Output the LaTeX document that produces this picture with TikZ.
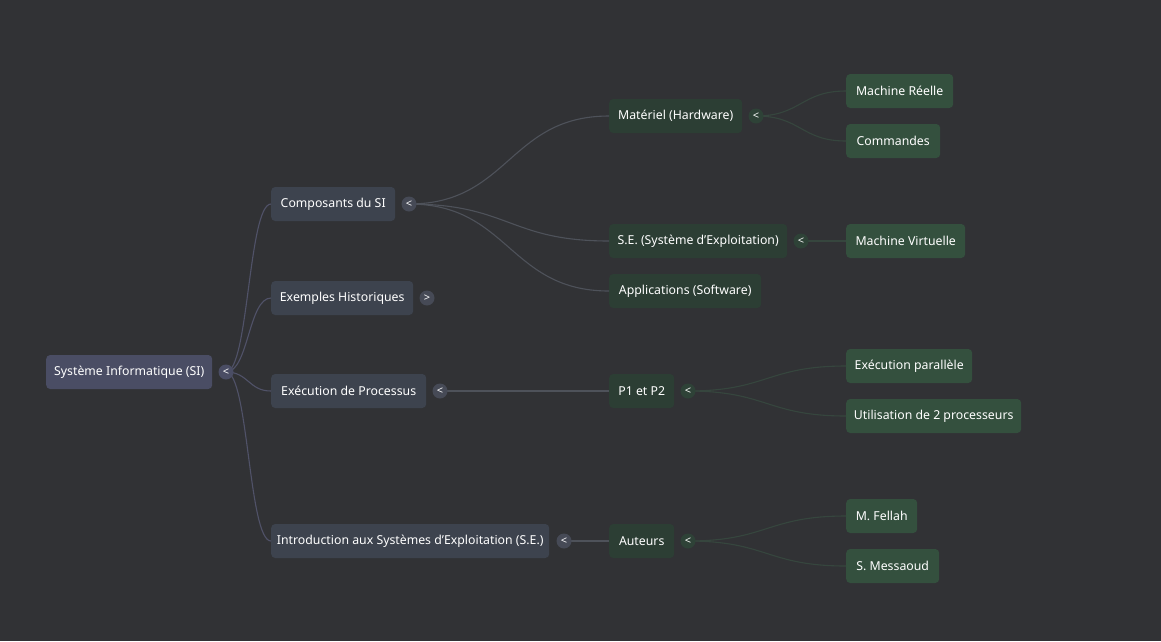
\documentclass[tikz,border=0pt]{standalone}
\usepackage{fontspec}
\setmainfont{Noto Sans}
\usetikzlibrary{calc}
\definecolor{bg}{RGB}{49,50,53}
\definecolor{rootfill}{RGB}{74,77,100}
\definecolor{topicfill}{RGB}{61,67,78}
\definecolor{subfill}{RGB}{44,62,52}
\definecolor{leaffill}{RGB}{52,80,62}
\definecolor{roottog}{RGB}{74,77,100}
\definecolor{topictog}{RGB}{70,74,86}
\definecolor{subtog}{RGB}{46,66,55}
\definecolor{rootlink}{RGB}{80,82,104}
\definecolor{topiclink}{RGB}{78,82,90}
\definecolor{sublink}{RGB}{54,70,62}
% curved connector from a toggle to a child box
\newcommand\mlink[3]{\draw[#1] let \p1=(#2.center), \p2=(#3.west), \n1={(\x2-\x1)/2} in
  (\p1) .. controls +(\n1,0) and +(-\n1,0) .. (\p2);}
\begin{document}
\begin{tikzpicture}[x=1pt,y=-1pt,
  box/.style={rounded corners=4pt, minimum height=34pt, inner sep=0pt, text=white,
    font=\fontsize{12.3}{14}\selectfont, anchor=west},
  rootbox/.style={box, fill=rootfill},
  topic/.style={box, fill=topicfill},
  subbox/.style={box, fill=subfill},
  leaf/.style={box, fill=leaffill},
  tog/.style={circle, minimum size=15pt, inner sep=0pt, text=white,
    font=\fontsize{11}{11}\selectfont\bfseries},
  rl/.style={rootlink, line width=1.1pt},
  tl/.style={topiclink, line width=1.1pt},
  sl/.style={sublink, line width=1.1pt}]
\fill[bg] (0,0) rectangle (1161,641);
\useasboundingbox (0,0) rectangle (1161,641);

% root
\node[rootbox, minimum width=166pt] (si) at (46,372) {Système Informatique (SI)};
% first level
\node[topic, minimum width=124pt] (comp) at (271,204) {Composants du SI};
\node[topic, minimum width=142pt] (hist) at (271,298) {Exemples Historiques};
\node[topic, minimum width=155pt] (exec) at (271,391) {Exécution de Processus};
\node[topic, minimum width=278pt] (intro) at (271,541) {Introduction aux Systèmes d'Exploitation (S.E.)};
% second level
\node[subbox, minimum width=133pt] (mat) at (609,116) {Matériel (Hardware)};
\node[subbox, minimum width=178pt] (se) at (609,241) {S.E. (Système d'Exploitation)};
\node[subbox, minimum width=152pt] (app) at (609,291) {Applications (Software)};
\node[subbox, minimum width=65pt] (p12) at (609,391) {P1 et P2};
\node[subbox, minimum width=65pt] (aut) at (609,541) {Auteurs};
% leaves
\node[leaf, minimum width=107pt] (mr) at (846,91) {Machine Réelle};
\node[leaf, minimum width=94pt] (cmd) at (846,141) {Commandes};
\node[leaf, minimum width=119pt] (mv) at (846,241) {Machine Virtuelle};
\node[leaf, minimum width=126pt] (par) at (846,366) {Exécution parallèle};
\node[leaf, minimum width=175pt] (proc) at (846,416) {Utilisation de 2 processeurs};
\node[leaf, minimum width=71pt] (fel) at (846,516) {M. Fellah};
\node[leaf, minimum width=93pt] (mes) at (846,566) {S. Messaoud};

% toggle positions (drawn after the connectors)
\coordinate (tsi) at (226,372);
\coordinate (tcomp) at (409,204);
\coordinate (texec) at (440,391);
\coordinate (tintro) at (564,541);
\coordinate (tmat) at (756,116);
\coordinate (tse) at (801,241);
\coordinate (tp12) at (688,391);
\coordinate (taut) at (688,541);

% connectors
\mlink{rl}{tsi}{comp}
\mlink{rl}{tsi}{hist}
\mlink{rl}{tsi}{exec}
\mlink{rl}{tsi}{intro}
\mlink{tl}{tcomp}{mat}
\mlink{tl}{tcomp}{se}
\mlink{tl}{tcomp}{app}
\draw[tl] (texec) -- (p12.west);
\draw[tl] (tintro) -- (aut.west);
\mlink{sl}{tmat}{mr}
\mlink{sl}{tmat}{cmd}
\draw[sl] (tse) -- (mv.west);
\mlink{sl}{tp12}{par}
\mlink{sl}{tp12}{proc}
\mlink{sl}{taut}{fel}
\mlink{sl}{taut}{mes}

% toggles
\node[tog, fill=roottog] at (tsi) {<};
\node[tog, fill=topictog] at (tcomp) {<};
\node[tog, fill=topictog] (thist) at (427,298) {>};
\node[tog, fill=topictog] at (texec) {<};
\node[tog, fill=topictog] at (tintro) {<};
\node[tog, fill=subtog] at (tmat) {<};
\node[tog, fill=subtog] at (tse) {<};
\node[tog, fill=subtog] at (tp12) {<};
\node[tog, fill=subtog] at (taut) {<};
\end{tikzpicture}
\end{document}
